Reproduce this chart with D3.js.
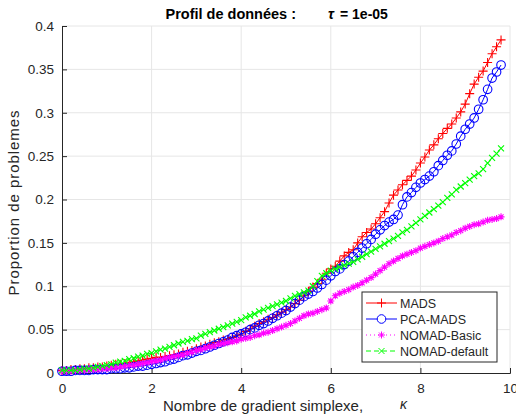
<!DOCTYPE html>
<html>
<head>
<meta charset="utf-8">
<script src="https://cdn.jsdelivr.net/npm/d3@7"></script>
<style>
  body { margin: 0; background: #fff; }
  text { font-family: "Liberation Sans", Arial, sans-serif; }
</style>
</head>
<body>
<div id="chart"></div>
<script>
// kappa grid (x) and the four profiles
var kappa = [0,0.1,0.2,0.3,0.4,0.5,0.6,0.7,0.8,0.9,1,1.1,1.2,1.3,1.4,1.5,1.6,1.7,1.8,1.9,
  2,2.1,2.2,2.3,2.4,2.5,2.6,2.7,2.8,2.9,3,3.1,3.2,3.3,3.4,3.5,3.6,3.7,3.8,3.9,
  4,4.1,4.2,4.3,4.4,4.5,4.6,4.7,4.8,4.9,5,5.1,5.2,5.3,5.4,5.5,5.6,5.7,5.8,5.9,
  6,6.1,6.2,6.3,6.4,6.5,6.6,6.7,6.8,6.9,7,7.1,7.2,7.3,7.4,7.5,7.6,7.7,7.8,7.9,
  8,8.1,8.2,8.3,8.4,8.5,8.6,8.7,8.8,8.9,9,9.1,9.2,9.3,9.4,9.5,9.6,9.7,9.8];

var mads = [.003,.003,.004,.004,.005,.005,.006,.006,.007,.007,.008,.009,.010,.010,.011,.012,.013,.014,.015,.016,
  .017,.018,.018,.019,.020,.021,.022,.024,.025,.026,.028,.030,.031,.033,.035,.036,.038,.039,.041,.043,
  .045,.048,.051,.054,.057,.059,.062,.064,.067,.070,.073,.076,.080,.084,.089,.094,.099,.103,.108,.115,
  .120,.123,.129,.135,.139,.142,.150,.157,.162,.166,.172,.179,.186,.196,.205,.211,.217,.222,.227,.234,
  .242,.249,.257,.263,.270,.276,.282,.287,.294,.301,.310,.322,.333,.341,.348,.358,.368,.376,.384];

var pcaMads = [.002,.002,.002,.003,.003,.003,.003,.004,.004,.004,.004,.005,.005,.005,.006,.006,.007,.008,.008,.009,
  .010,.011,.012,.013,.015,.016,.018,.020,.021,.023,.025,.026,.028,.030,.032,.034,.036,.038,.041,.043,
  .045,.047,.050,.052,.055,.057,.060,.063,.066,.069,.072,.076,.080,.084,.088,.091,.094,.098,.102,.107,
  .112,.117,.120,.125,.129,.134,.139,.144,.149,.154,.160,.165,.170,.174,.177,.182,.194,.203,.208,.214,
  .219,.223,.227,.232,.239,.245,.251,.256,.264,.273,.281,.287,.294,.304,.315,.327,.340,.347,.355];

var nomadBasic = [.002,.002,.002,.003,.003,.003,.004,.004,.004,.005,.005,.006,.006,.007,.008,.009,.009,.010,.011,.012,
  .013,.014,.015,.017,.018,.019,.020,.021,.023,.024,.026,.027,.029,.030,.031,.033,.034,.035,.036,.037,
  .039,.040,.041,.043,.044,.046,.047,.049,.051,.053,.055,.057,.060,.063,.066,.068,.069,.071,.073,.075,
  .083,.089,.092,.094,.096,.099,.101,.104,.107,.110,.114,.118,.122,.126,.129,.132,.135,.137,.139,.141,
  .144,.146,.148,.150,.152,.155,.157,.159,.162,.164,.167,.169,.171,.172,.174,.176,.177,.178,.180];

var nomadDefault = [.003,.003,.003,.003,.004,.005,.005,.006,.007,.008,.009,.010,.012,.013,.014,.016,.017,.019,.020,.022,
  .023,.025,.027,.028,.030,.032,.034,.036,.037,.039,.040,.043,.045,.047,.049,.051,.053,.055,.057,.059,
  .061,.064,.066,.068,.071,.073,.075,.077,.079,.081,.083,.086,.089,.091,.093,.095,.100,.106,.112,.115,
  .118,.120,.122,.124,.126,.128,.131,.134,.137,.140,.143,.146,.149,.152,.155,.158,.162,.165,.169,.173,
  .177,.181,.185,.189,.193,.197,.202,.206,.211,.215,.219,.223,.227,.230,.235,.242,.248,.253,.259];

var seriesNames = ["MADS", "PCA-MADS", "NOMAD-Basic", "NOMAD-default"];
var xTicks = [0, 2, 4, 6, 8, 10];
var yTicks = [0, 0.05, 0.1, 0.15, 0.2, 0.25, 0.3, 0.35, 0.4];

var w = 516, h = 415;
var pLeft = 62, pRight = 510, pTop = 26, pBottom = 373;

var series = [
  {name: seriesNames[0], values: mads,         color: "#ff0000", dash: null,  marker: "plus"},
  {name: seriesNames[1], values: pcaMads,      color: "#0000ff", dash: null,  marker: "circle"},
  {name: seriesNames[2], values: nomadBasic,   color: "#ff00ff", dash: "1,3", marker: "star"},
  {name: seriesNames[3], values: nomadDefault, color: "#00ff00", dash: "5,3", marker: "cross"}
];

var svg = d3.select("#chart").append("svg")
  .attr("width", w).attr("height", h);

var x = d3.scaleLinear().domain([0, 10]).range([pLeft, pRight]);
var y = d3.scaleLinear().domain([0, 0.4]).range([pBottom, pTop]);

// grid
svg.append("g").selectAll("line").data(xTicks.slice(1)).enter().append("line")
  .attr("x1", function(d){return x(d);}).attr("x2", function(d){return x(d);})
  .attr("y1", pTop).attr("y2", pBottom)
  .attr("stroke", "#e6e6e6").attr("stroke-width", 1);
svg.append("g").selectAll("line").data(yTicks.slice(1)).enter().append("line")
  .attr("x1", pLeft).attr("x2", pRight)
  .attr("y1", function(d){return y(d);}).attr("y2", function(d){return y(d);})
  .attr("stroke", "#e6e6e6").attr("stroke-width", 1);

// axes, ticks pointing inward
var xAxis = svg.append("g").attr("transform", "translate(0," + pBottom + ")")
  .call(d3.axisBottom(x).tickValues(xTicks).tickSize(-5).tickPadding(10).tickFormat(d3.format("d")));
var yAxis = svg.append("g").attr("transform", "translate(" + pLeft + ",0)")
  .call(d3.axisLeft(y).tickValues(yTicks).tickSize(-5).tickPadding(8).tickFormat(function(d){return d === 0 ? "0" : String(d);}));
[xAxis, yAxis].forEach(function(a){
  a.select(".domain").attr("stroke", "#262626");
  a.selectAll(".tick line").attr("stroke", "#262626");
  a.selectAll(".tick text").attr("fill", "#262626").style("font-size", "13.5px")
    .style("font-family", "'Liberation Sans', Arial, sans-serif");
});

// marker shapes
function markerPath(type) {
  if (type === "plus") return "M-4.5,0H4.5M0,-4.5V4.5";
  if (type === "cross") return "M-3,-3L3,3M-3,3L3,-3";
  if (type === "star") return "M-3.5,0H3.5M0,-3.5V3.5M-2.5,-2.5L2.5,2.5M-2.5,2.5L2.5,-2.5";
  return null;
}

var line = d3.line()
  .x(function(d){return x(d[0]);})
  .y(function(d){return y(d[1]);});

series.forEach(function(s){
  var pts = kappa.map(function(k, i){return [k, s.values[i]];});
  var g = svg.append("g");
  g.append("path").datum(pts)
    .attr("d", line)
    .attr("fill", "none")
    .attr("stroke", s.color)
    .attr("stroke-width", 1)
    .attr("stroke-dasharray", s.dash);
  if (s.marker === "circle") {
    g.selectAll("circle").data(pts).enter().append("circle")
      .attr("cx", function(d){return x(d[0]);})
      .attr("cy", function(d){return y(d[1]);})
      .attr("r", 4.3)
      .attr("fill", "none").attr("stroke", s.color).attr("stroke-width", 1.1);
  } else {
    g.selectAll(".mk").data(pts).enter().append("path")
      .attr("class", "mk")
      .attr("transform", function(d){return "translate(" + x(d[0]) + "," + y(d[1]) + ")";})
      .attr("d", markerPath(s.marker))
      .attr("fill", "none").attr("stroke", s.color).attr("stroke-width", 1.1);
  }
});

// legend
var lg = svg.append("g").attr("transform", "translate(362,292)");
lg.append("rect").attr("width", 135).attr("height", 70)
  .attr("fill", "#fff").attr("stroke", "#262626").attr("stroke-width", 1);
series.forEach(function(s, i){
  var yy = 11 + i * 16;
  lg.append("line").attr("x1", 4).attr("x2", 35).attr("y1", yy).attr("y2", yy)
    .attr("stroke", s.color).attr("stroke-dasharray", s.dash);
  if (s.marker === "circle") {
    lg.append("circle").attr("cx", 19.5).attr("cy", yy).attr("r", 4.3)
      .attr("fill", "#fff").attr("stroke", s.color);
  } else {
    lg.append("path").attr("transform", "translate(19.5," + yy + ")")
      .attr("d", markerPath(s.marker)).attr("fill", "none").attr("stroke", s.color);
  }
  lg.append("text").attr("x", 38).attr("y", yy + 4.5)
    .style("font-size", "12.5px").attr("fill", "#262626").text(s.name);
});

// title
svg.append("text").attr("x", 296).attr("y", 19).attr("text-anchor", "end")
  .style("font-size", "14.5px").style("font-weight", "bold").attr("fill", "#000")
  .text("Profil de données :");
svg.append("text").attr("x", 328).attr("y", 19)
  .style("font-size", "14.5px").style("font-weight", "bold").style("font-style", "italic")
  .attr("fill", "#000").text("τ");
svg.append("text").attr("x", 340).attr("y", 19)
  .style("font-size", "14px").style("font-weight", "bold").attr("fill", "#000")
  .text("= 1e-05");

// axis labels
svg.append("text").attr("x", 163).attr("y", 411)
  .style("font-size", "15px").attr("fill", "#262626")
  .text("Nombre de gradient simplexe,");
svg.append("text").attr("x", 400).attr("y", 409)
  .style("font-size", "14px").style("font-style", "italic").attr("fill", "#262626")
  .text("κ");
svg.append("text")
  .attr("transform", "translate(19,203) rotate(-90)")
  .attr("text-anchor", "middle")
  .attr("textLength", 185).attr("lengthAdjust", "spacing")
  .style("font-size", "15px").attr("fill", "#262626")
  .text("Proportion de problemes");
</script>
</body>
</html>
